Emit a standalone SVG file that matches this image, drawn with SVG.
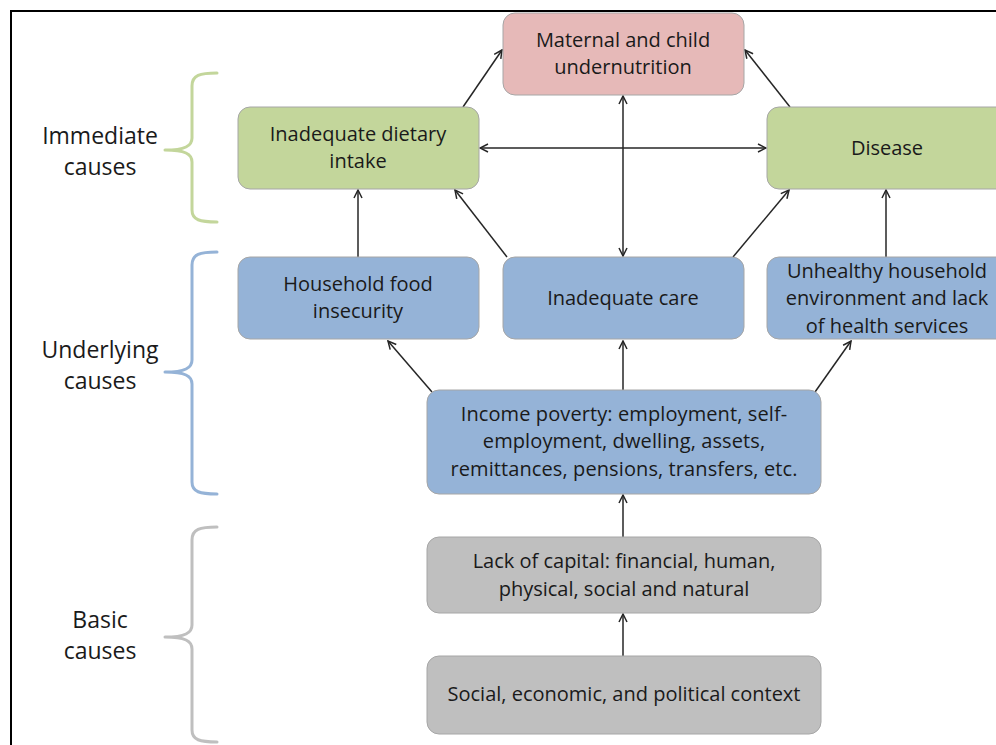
<svg xmlns="http://www.w3.org/2000/svg" width="996" height="745" viewBox="0 0 996 745">
<defs>
<style>
.box{stroke:#a6a6a6;stroke-width:1}
.red{fill:#e6b9b8}
.green{fill:#c3d69b}
.blue{fill:#95b3d7}
.gray{fill:#bfbfbf}
.t{font-family:"Open Sans","Liberation Sans",sans-serif;font-size:20px;fill:#1a1a1a;text-anchor:middle}
.wide{letter-spacing:0.1px}
.lbl{font-family:"Open Sans","Liberation Sans",sans-serif;font-size:23px;fill:#1a1a1a;text-anchor:middle}
.conn line{stroke:#262626;stroke-width:1.5;fill:none}
.brace{fill:none;stroke-width:3;stroke-linecap:round;stroke-linejoin:round}
</style>
<marker id="ah" viewBox="0 0 10 10" refX="9" refY="5" markerWidth="10" markerHeight="10" markerUnits="userSpaceOnUse" orient="auto-start-reverse">
<path d="M1,1 L9,5 L1,9" fill="none" stroke="#262626" stroke-width="1.5"/>
</marker>
</defs>
<rect width="996" height="745" fill="#ffffff"/>
<g id="frame">
<line x1="10" y1="11" x2="996" y2="11" stroke="#000" stroke-width="2"/>
<line x1="11" y1="10" x2="11" y2="745" stroke="#000" stroke-width="2"/>
</g>
<g id="braces">
<g id="brace-immediate">
<path class="brace" stroke="#c3d69b" d="M217,73 C200,73 192,75 192,86 L192,138 C192,146 185,150 165,150 C185,150 192,154 192,162 L192,210 C192,220 200,222 217,222"/>
<text class="lbl" x="100" y="144">Immediate</text>
<text class="lbl" x="100" y="175">causes</text>
</g>
<g id="brace-underlying">
<path class="brace" stroke="#95b3d7" d="M217,252 C200,252 192,254 192,265 L192,360 C192,368 185,372 165,372 C185,372 192,376 192,384 L192,482 C192,492 200,494 217,494"/>
<text class="lbl" x="100" y="358">Underlying</text>
<text class="lbl" x="100" y="389">causes</text>
</g>
<g id="brace-basic">
<path class="brace" stroke="#bfbfbf" d="M217,527 C200,527 192,529 192,540 L192,625 C192,633 185,637 165,637 C185,637 192,641 192,649 L192,730 C192,740 200,742 217,742"/>
<text class="lbl" x="100" y="628">Basic</text>
<text class="lbl" x="100" y="659">causes</text>
</g>
</g>
<g id="connectors" class="conn">
<line x1="463" y1="107" x2="502" y2="50" marker-end="url(#ah)"/>
<line x1="790" y1="107" x2="745" y2="50" marker-end="url(#ah)"/>
<line x1="480" y1="148" x2="766" y2="148" marker-start="url(#ah)" marker-end="url(#ah)"/>
<line x1="623" y1="96" x2="623" y2="256" marker-start="url(#ah)" marker-end="url(#ah)"/>
<line x1="358" y1="257" x2="358" y2="190" marker-end="url(#ah)"/>
<line x1="507" y1="257" x2="455" y2="190" marker-end="url(#ah)"/>
<line x1="733" y1="257" x2="789" y2="190" marker-end="url(#ah)"/>
<line x1="886" y1="257" x2="886" y2="190" marker-end="url(#ah)"/>
<line x1="432" y1="392" x2="388" y2="341" marker-end="url(#ah)"/>
<line x1="623" y1="390" x2="623" y2="341" marker-end="url(#ah)"/>
<line x1="815" y1="392" x2="851" y2="341" marker-end="url(#ah)"/>
<line x1="623" y1="537" x2="623" y2="495" marker-end="url(#ah)"/>
<line x1="623" y1="656" x2="623" y2="614" marker-end="url(#ah)"/>
</g>
<g id="maternal">
<rect class="box red" x="503" y="13" width="241" height="82" rx="12"/>
<text class="t" x="623" y="47">Maternal and child</text>
<text class="t" x="623" y="74">undernutrition</text>
</g>
<g id="dietary">
<rect class="box green" x="238" y="107" width="241" height="82" rx="12"/>
<text class="t" x="358" y="141">Inadequate dietary</text>
<text class="t" x="358" y="168">intake</text>
</g>
<g id="disease">
<rect class="box green" x="767" y="107" width="241" height="82" rx="12"/>
<text class="t" x="887" y="155">Disease</text>
</g>
<g id="household">
<rect class="box blue" x="238" y="257" width="241" height="82" rx="12"/>
<text class="t" x="358" y="291">Household food</text>
<text class="t" x="358" y="318">insecurity</text>
</g>
<g id="care">
<rect class="box blue" x="503" y="257" width="241" height="82" rx="12"/>
<text class="t" x="623" y="305">Inadequate care</text>
</g>
<g id="unhealthy">
<rect class="box blue" x="767" y="257" width="241" height="82" rx="12"/>
<text class="t" x="887" y="278">Unhealthy household</text>
<text class="t" x="887" y="305">environment and lack</text>
<text class="t" x="887" y="333">of health services</text>
</g>
<g id="income">
<rect class="box blue" x="427" y="390" width="394" height="104" rx="12"/>
<text class="t wide" x="624" y="421">Income poverty: employment, self-</text>
<text class="t wide" x="624" y="448">employment, dwelling, assets,</text>
<text class="t wide" x="624" y="476">remittances, pensions, transfers, etc.</text>
</g>
<g id="capital">
<rect class="box gray" x="427" y="537" width="394" height="76" rx="12"/>
<text class="t" x="624" y="568">Lack of capital: financial, human,</text>
<text class="t" x="624" y="596">physical, social and natural</text>
</g>
<g id="context">
<rect class="box gray" x="427" y="656" width="394" height="78" rx="12"/>
<text class="t" x="624" y="701">Social, economic, and political context</text>
</g>
</svg>
